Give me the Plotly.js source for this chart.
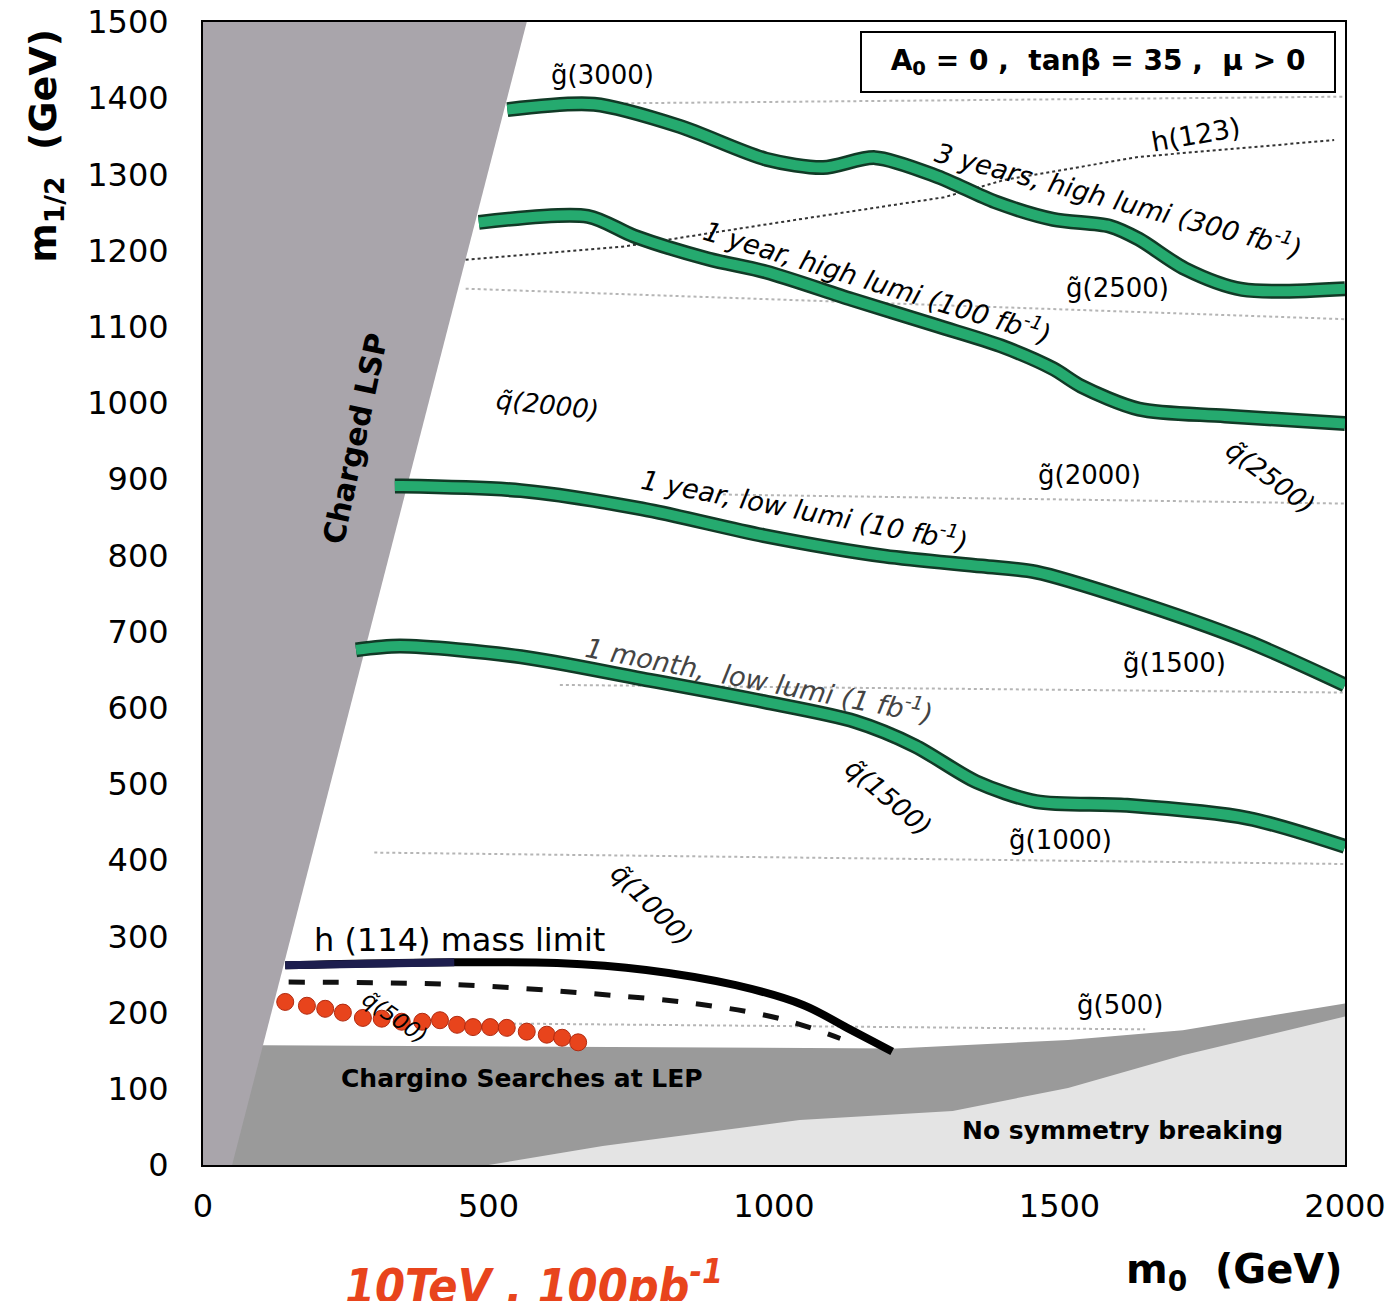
<!DOCTYPE html>
<html><head><meta charset="utf-8">
<script src="https://cdn.plot.ly/plotly-3.0.1.min.js"></script>
<style>body{margin:0;background:#fff}#chart{width:1400px;height:1301px}</style>
</head><body><div id="chart"></div>
<script>
// ---------------- data (m0, m1/2 in GeV) ----------------
const xTickVals = [0, 500, 1000, 1500, 2000];
const yTickVals = [0, 100, 200, 300, 400, 500, 600, 700, 800, 900, 1000, 1100, 1200, 1300, 1400, 1500];

// excluded regions
const lspX = [0, 0, 567, 105, 51];
const lspY = [0, 1500, 1500, 157, 0];
const lepX = [0, 0, 105, 600, 1045, 1213, 1515, 1716, 2000, 2000];
const lepY = [0, 160, 157, 155, 153, 153, 164, 177, 212, 0];
const ewsbX = [500, 700, 1045, 1313, 1515, 1716, 2000, 2000];
const ewsbY = [0, 25, 59, 71, 101, 144, 195, 0];

// reach curves
const m1fbX = [268, 345, 557, 769, 982, 1142, 1247, 1354, 1459, 1618, 1830, 2000];
const m1fbY = [676, 681, 667, 638, 608, 582, 550, 503, 477, 472, 455, 418];
const y10fbX = [336, 345, 557, 769, 982, 1194, 1364, 1459, 1618, 1830, 2000];
const y10fbY = [891, 891, 885, 861, 826, 799, 786, 778, 743, 687, 630];
const y100fbX = [483, 674, 755, 885, 986, 1136, 1287, 1397, 1489, 1538, 1639, 1790, 2000];
const y100fbY = [1237, 1245, 1219, 1189, 1172, 1136, 1101, 1075, 1045, 1022, 992, 983, 973];
const y300fbX = [533, 685, 835, 986, 1086, 1177, 1287, 1387, 1489, 1588, 1639, 1720, 1820, 2000];
const y300fbY = [1385, 1392, 1363, 1320, 1309, 1322, 1297, 1264, 1241, 1232, 1215, 1176, 1149, 1150];

// Higgs mass limit h(114) and its hatching
const h114X = [144, 440, 620, 776, 933, 1051, 1128, 1207];
const h114Y = [262, 266, 265, 256, 236, 210, 180, 149];
const h114NavyX = [144, 300, 440];
const h114NavyY = [262, 264, 266];
const hatchX = [150, 433, 695, 870, 1011, 1116];
const hatchY = [240, 237, 224, 211, 192, 166];

// h(123) contour
const h123X = [460, 734, 1035, 1298, 1405, 1639, 1981];
const h123Y = [1188, 1205, 1240, 1270, 1293, 1323, 1345];

// gluino mass contours (faint dotted)
const gl3000X = [540, 2000], gl3000Y = [1392, 1402];
const gl2500X = [460, 2000], gl2500Y = [1150, 1110];
const gl2000X = [900, 2000], gl2000Y = [880, 868];
const gl1500X = [625, 2000], gl1500Y = [630, 620];
const gl1000X = [300, 2000], gl1000Y = [410, 395];
const gl500X = [480, 1650], gl500Y = [186, 178];

// red points (10 TeV, 100 pb^-1)
const dotX = [144, 182, 214, 245, 280, 313, 348, 384, 415, 445, 473, 503, 532, 567, 602, 629, 657];
const dotY = [214, 209, 205, 200, 193, 192, 188, 188, 190, 184, 181, 181, 180, 175, 171, 167, 161];

// ---------------- traces ----------------
const traces = [];
function region(x, y, color) {
  traces.push({x: x, y: y, type: 'scatter', mode: 'lines', fill: 'toself',
    fillcolor: color, line: {width: 0, color: color}, hoverinfo: 'skip'});
}
region(lepX, lepY, '#9a9a9a');
region(ewsbX, ewsbY, '#e4e4e4');
region(lspX, lspY, '#a9a5ab');

function dotted(x, y, color, w) {
  traces.push({x: x, y: y, type: 'scatter', mode: 'lines',
    line: {color: color, width: w, dash: 'dot'}, hoverinfo: 'skip'});
}
[[gl3000X, gl3000Y], [gl2500X, gl2500Y], [gl2000X, gl2000Y], [gl1500X, gl1500Y],
 [gl1000X, gl1000Y], [gl500X, gl500Y]].forEach(p => dotted(p[0], p[1], '#b5b5b5', 2));
dotted(h123X, h123Y, '#333333', 2);

function green(x, y) {
  traces.push({x: x, y: y, type: 'scatter', mode: 'lines',
    line: {color: '#113a26', width: 15, shape: 'spline', smoothing: 0.8}, hoverinfo: 'skip'});
  traces.push({x: x, y: y, type: 'scatter', mode: 'lines',
    line: {color: '#25aa6f', width: 10, shape: 'spline', smoothing: 0.8}, hoverinfo: 'skip'});
}
green(m1fbX, m1fbY);
green(y10fbX, y10fbY);
green(y100fbX, y100fbY);
green(y300fbX, y300fbY);

traces.push({x: hatchX, y: hatchY, type: 'scatter', mode: 'lines',
  line: {color: '#111', width: 5, dash: '16px,18px', shape: 'spline'}, hoverinfo: 'skip'});
traces.push({x: h114X, y: h114Y, type: 'scatter', mode: 'lines',
  line: {color: '#000', width: 8, shape: 'spline'}, hoverinfo: 'skip'});
traces.push({x: h114NavyX, y: h114NavyY, type: 'scatter', mode: 'lines',
  line: {color: '#1d1e4e', width: 8}, hoverinfo: 'skip'});

traces.push({x: dotX, y: dotY, type: 'scatter', mode: 'markers',
  marker: {color: '#e8441c', size: 17, line: {color: '#b02a10', width: 1}}, hoverinfo: 'skip'});

// ---------------- annotations ----------------
const F = 'DejaVu Sans';
function lab(x, y, text, size, angle, opts) {
  opts = opts || {};
  return Object.assign({x: x, y: y, xref: 'x', yref: 'y', text: text, showarrow: false,
    xanchor: 'center', yanchor: 'middle', textangle: angle || 0,
    font: {family: F, size: size, color: opts.color || '#000', style: opts.italic ? 'italic' : 'normal'}}, opts.extra || {});
}
const ann = [
  lab(700, 1430, 'g\u0303(3000)', 26),
  lab(1604, 1269, '3 years, high lumi (300 fb<sup>-1</sup>)', 27, 15, {italic: true}),
  lab(1739, 1352, 'h(123)', 27, -10),
  lab(1182, 1161, '1 year, high lumi (100 fb<sup>-1</sup>)', 27, 17, {italic: true}),
  lab(1602, 1151, 'g\u0303(2500)', 26),
  lab(604, 997, 'q\u0303(2000)', 26, 6, {italic: true}),
  lab(266, 954, '<b>Charged LSP</b>', 30, -78),
  lab(1869, 903, 'q\u0303(2500)', 26, 37, {italic: true}),
  lab(1553, 906, 'g\u0303(2000)', 26),
  lab(1054, 862, '1 year, low lumi (10 fb<sup>-1</sup>)', 27, 11, {italic: true}),
  lab(1702, 659, 'g\u0303(1500)', 26),
  lab(975, 639, '1 month,  low lumi (1 fb<sup>-1</sup>)', 27, 11, {italic: true, color: '#444'}),
  lab(1200, 483, 'q\u0303(1500)', 26, 40, {italic: true}),
  lab(1501, 427, 'g\u0303(1000)', 26),
  lab(786, 341, 'q\u0303(1000)', 26, 45, {italic: true}),
  lab(450, 295, 'h (114) mass limit', 32),
  lab(336, 193, 'q\u0303(500)', 22, 35, {italic: true}),
  lab(1606, 210, 'g\u0303(500)', 26),
  lab(559, 114, '<b>Chargino Searches at LEP</b>', 25),
  lab(1611, 45, '<b>No symmetry breaking</b>', 25),
  lab(1567, 1448, '<b>A<sub>0</sub> = 0 ,  tan\u03b2 = 35 ,  \u03bc > 0</b>', 28, 0,
    {extra: {bordercolor: '#000', borderwidth: 2, width: 470, height: 56, bgcolor: '#fff'}}),
  // axis titles
  {xref: 'paper', yref: 'paper', x: -0.138, y: 0.892, xanchor: 'center', yanchor: 'middle',
   text: '<b>m<sub>1/2</sub>  (GeV)</b>', textangle: -90, showarrow: false,
   font: {family: F, size: 38, color: '#000'}},
  {xref: 'paper', yref: 'paper', x: 1.0, y: -0.094, xanchor: 'right', yanchor: 'middle',
   text: '<b>m<sub>0</sub>  (GeV)</b>', showarrow: false, font: {family: F, size: 40, color: '#000'}},
  // handwritten note, cut by page bottom
  {xref: 'paper', yref: 'paper', x: 0.29, y: -0.074, xanchor: 'center', yanchor: 'top',
   text: '<b>10TeV , 100pb<sup>-1</sup></b>', showarrow: false,
   font: {family: 'DejaVu Sans Condensed', size: 48, color: '#e8441c', style: 'italic'}}
];

const axisBase = {showgrid: false, zeroline: false, showline: true, mirror: true,
  linecolor: '#000', linewidth: 2, ticks: '', fixedrange: true,
  tickfont: {family: F, size: 32, color: '#000'}};

const layout = {
  width: 1400, height: 1301,
  margin: {l: 203, r: 55, t: 22, b: 136},
  paper_bgcolor: '#fff', plot_bgcolor: '#fff',
  showlegend: false,
  xaxis: Object.assign({}, axisBase, {range: [0, 2000], tickmode: 'array', tickvals: xTickVals,
    ticktext: xTickVals.map(String), ticklabelstandoff: 12}),
  yaxis: Object.assign({}, axisBase, {range: [0, 1500], tickmode: 'array', tickvals: yTickVals,
    ticktext: yTickVals.map(String), ticklabelstandoff: 26}),
  annotations: ann
};

Plotly.newPlot('chart', traces, layout, {displayModeBar: false, staticPlot: true});
</script>
</body></html>
